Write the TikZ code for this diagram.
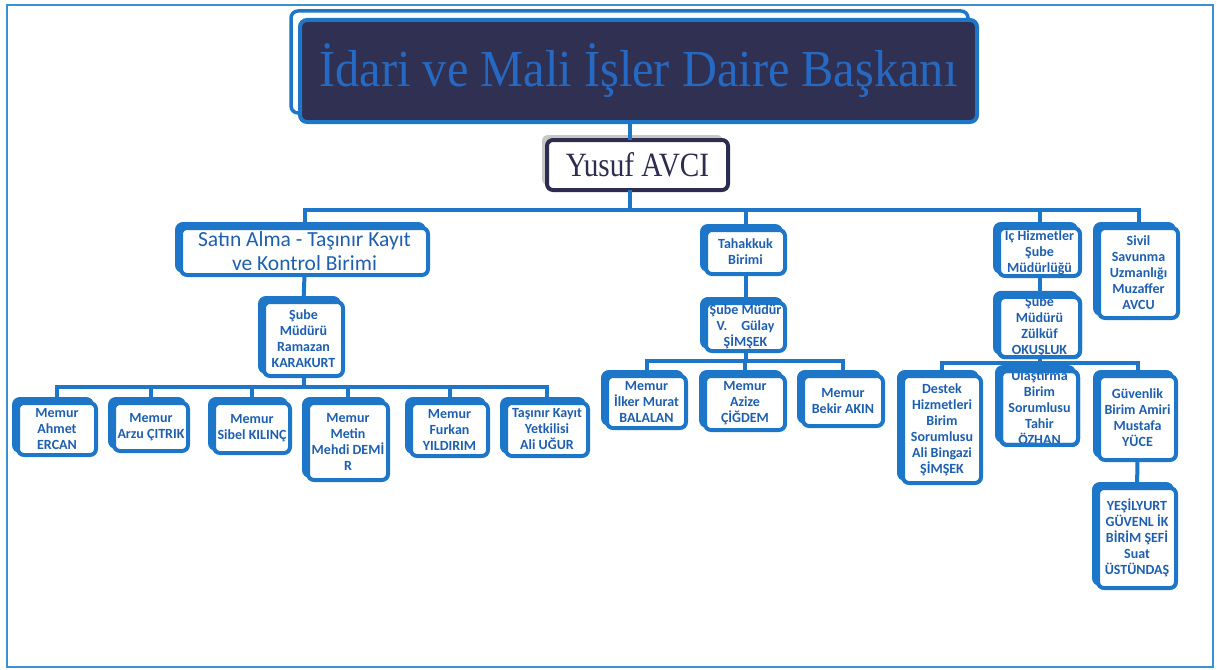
\documentclass[tikz,border=0pt]{standalone}
\usepackage{fontspec}
\setmainfont{Carlito}
\newfontfamily\serifT{Liberation Serif}
\usetikzlibrary{shadows}
\definecolor{boxblue}{RGB}{30,118,200}
\definecolor{txtblue}{RGB}{30,95,175}
\definecolor{navy}{RGB}{44,45,80}
\definecolor{titlefill}{RGB}{48,49,82}
\definecolor{titletext}{RGB}{38,105,195}
\definecolor{framecol}{RGB}{60,145,210}
\newcommand\cardfont{\fontsize{14}{16}\selectfont\bfseries}
\begin{document}
\begin{tikzpicture}[x=1pt,y=-1pt,
 card/.style={draw=boxblue, line width=4pt, rounded corners=6pt, fill=white,
   text=txtblue, align=center, inner sep=0pt, outer sep=0pt, font=\cardfont,
   general shadow={shadow xshift=-4pt, shadow yshift=4pt, fill=boxblue, draw=boxblue, line width=4pt}},
 bigcard/.style={card, font=\fontsize{21.5}{24}\selectfont},
 link/.style={draw=boxblue, line width=4pt},
 reborder/.style={draw=boxblue, line width=4pt, rounded corners=6pt}]
\useasboundingbox (0,0) rectangle (1217,669);
\draw[framecol, line width=1.5pt] (7,5) rectangle (1213,667);

% title
\node[draw=boxblue, line width=4pt, rounded corners=7pt, fill=titlefill, inner sep=0pt, outer sep=0pt,
  minimum width=677, minimum height=102,
  general shadow={shadow xshift=-9pt, shadow yshift=9pt, fill=white, draw=boxblue, line width=3.5pt},
  text=titletext, font=\serifT\fontsize{52}{52}\selectfont] (title) at (638.5,71)
  {\scalebox{0.93}[1]{İdari ve Mali İşler Daire Başkanı}};

\node[draw=navy, line width=4pt, rounded corners=6pt, fill=white, inner sep=0pt, outer sep=0pt,
  minimum width=181, minimum height=50,
  general shadow={shadow xshift=-5pt, shadow yshift=5pt, fill=black!22},
  text=navy, font=\serifT\fontsize{34}{34}\selectfont] (yusuf) at (637.5,165)
  {\scalebox{0.86}[1]{Yusuf AVCI}};

% level 1
\node[bigcard, minimum width=247, minimum height=47] (satin) at (304.5,251.5) {Satın Alma - Taşınır Kayıt\\ve Kontrol Birimi};
\node[card, minimum width=79, minimum height=44] (tah) at (745.5,252) {Tahakkuk\\Birimi};
\node[card, minimum width=81, minimum height=48] (ich) at (1039.5,252) {İç Hizmetler\\Şube\\Müdürlüğü};
\node[card, minimum width=79, minimum height=90] (sivil) at (1138.5,273) {Sivil\\Savunma\\Uzmanlığı\\Muzaffer\\AVCU};

% level 2
\node[card, minimum width=79, minimum height=74] (ramazan) at (303.5,339) {Şube\\Müdürü\\Ramazan\\KARAKURT};
\node[card, minimum width=79, minimum height=48] (gulay) at (745.5,327) {Şube Müdür\\V.\quad Gülay\\ŞİMŞEK};
\node[card, minimum width=81, minimum height=52] (zul) at (1039.5,327) {Şube\\Müdürü\\Zülküf\\OKUŞLUK};
\draw[reborder] (zul.north west) rectangle (zul.south east);

% level 3 left
\node[card, minimum width=78, minimum height=52] (ahmet) at (57,429) {Memur\\Ahmet\\ERCAN};
\node[card, minimum width=74, minimum height=48] (arzu) at (151,427) {Memur\\Arzu ÇITRIK};
\node[card, minimum width=76, minimum height=50] (sibel) at (252,428) {Memur\\Sibel KILINÇ};
\node[card, minimum width=80, minimum height=77] (metin) at (348,441.5) {Memur\\Metin\\Mehdi DEMİ\\R};
\node[card, minimum width=77, minimum height=53] (furkan) at (449.5,429.5) {Memur\\Furkan\\YILDIRIM};
\node[card, minimum width=82, minimum height=53] (ali) at (547,429.5) {Taşınır Kayıt\\Yetkilisi\\Ali UĞUR};

% level 3 middle
\node[card, minimum width=79, minimum height=52] (ilker) at (646.5,402) {Memur\\İlker Murat\\BALALAN};
\node[card, minimum width=80, minimum height=54] (azize) at (745,403) {Memur\\Azize\\ÇİĞDEM};
\node[card, minimum width=80, minimum height=50] (bekir) at (843,401) {Memur\\Bekir AKIN};

% level 3 right
\node[card, minimum width=78, minimum height=107] (destek) at (942,429.5) {Destek\\Hizmetleri\\Birim\\Sorumlusu\\Ali Bingazi\\ŞİMŞEK};
\node[card, minimum width=77, minimum height=64] (ulas) at (1039.5,408) {Ulaştırma\\Birim\\Sorumlusu\\Tahir\\ÖZHAN};
\draw[reborder] (ulas.north west) rectangle (ulas.south east);
\node[card, minimum width=77, minimum height=84] (guv) at (1137.5,418) {Güvenlik\\Birim Amiri\\Mustafa\\YÜCE};
\node[card, minimum width=78, minimum height=100] (yes) at (1137,538) {YEŞİLYURT\\GÜVENL İK\\BİRİM ŞEFİ\\Suat\\ÜSTÜNDAŞ};

% connectors
\coordinate (trunk) at (630,210);
\draw[link] (title.south -| trunk) -- (yusuf.north -| trunk);
\draw[link] (yusuf.south -| trunk) -- (trunk);
\draw[link] (satin.north) |- (trunk) -| (sivil.north);
\draw[link] (tah.north) -- (tah.north |- trunk);
\draw[link] (ich.north) -- (ich.north |- trunk);

\coordinate (busL) at (0,387);
\draw[link] (satin.south) -- (ramazan.north);
\draw[link] (ramazan.south) -- (ramazan.south |- busL);
\draw[link] (ahmet.north) |- (busL -| ali.north) -- (ali.north);
\foreach \n in {arzu,sibel,metin,furkan}{\draw[link] (\n.north) -- (\n.north |- busL);}

\coordinate (busM) at (0,361);
\draw[link] (tah.south) -- (gulay.north);
\draw[link] (gulay.south) -- (gulay.south |- busM);
\draw[link] (ilker.north) |- (busM -| bekir.north) -- (bekir.north);
\draw[link] (azize.north) -- (azize.north |- busM);

\coordinate (busR) at (0,363);
\draw[link] (ich.south) -- (zul.north);
\draw[link] (zul.south) -- (zul.south |- busR);
\draw[link] (destek.north) |- (busR -| guv.north) -- (guv.north);
\draw[link] (ulas.north) -- (ulas.north |- busR);
\draw[link] (guv.south) -- (yes.north);
\end{tikzpicture}
\end{document}
